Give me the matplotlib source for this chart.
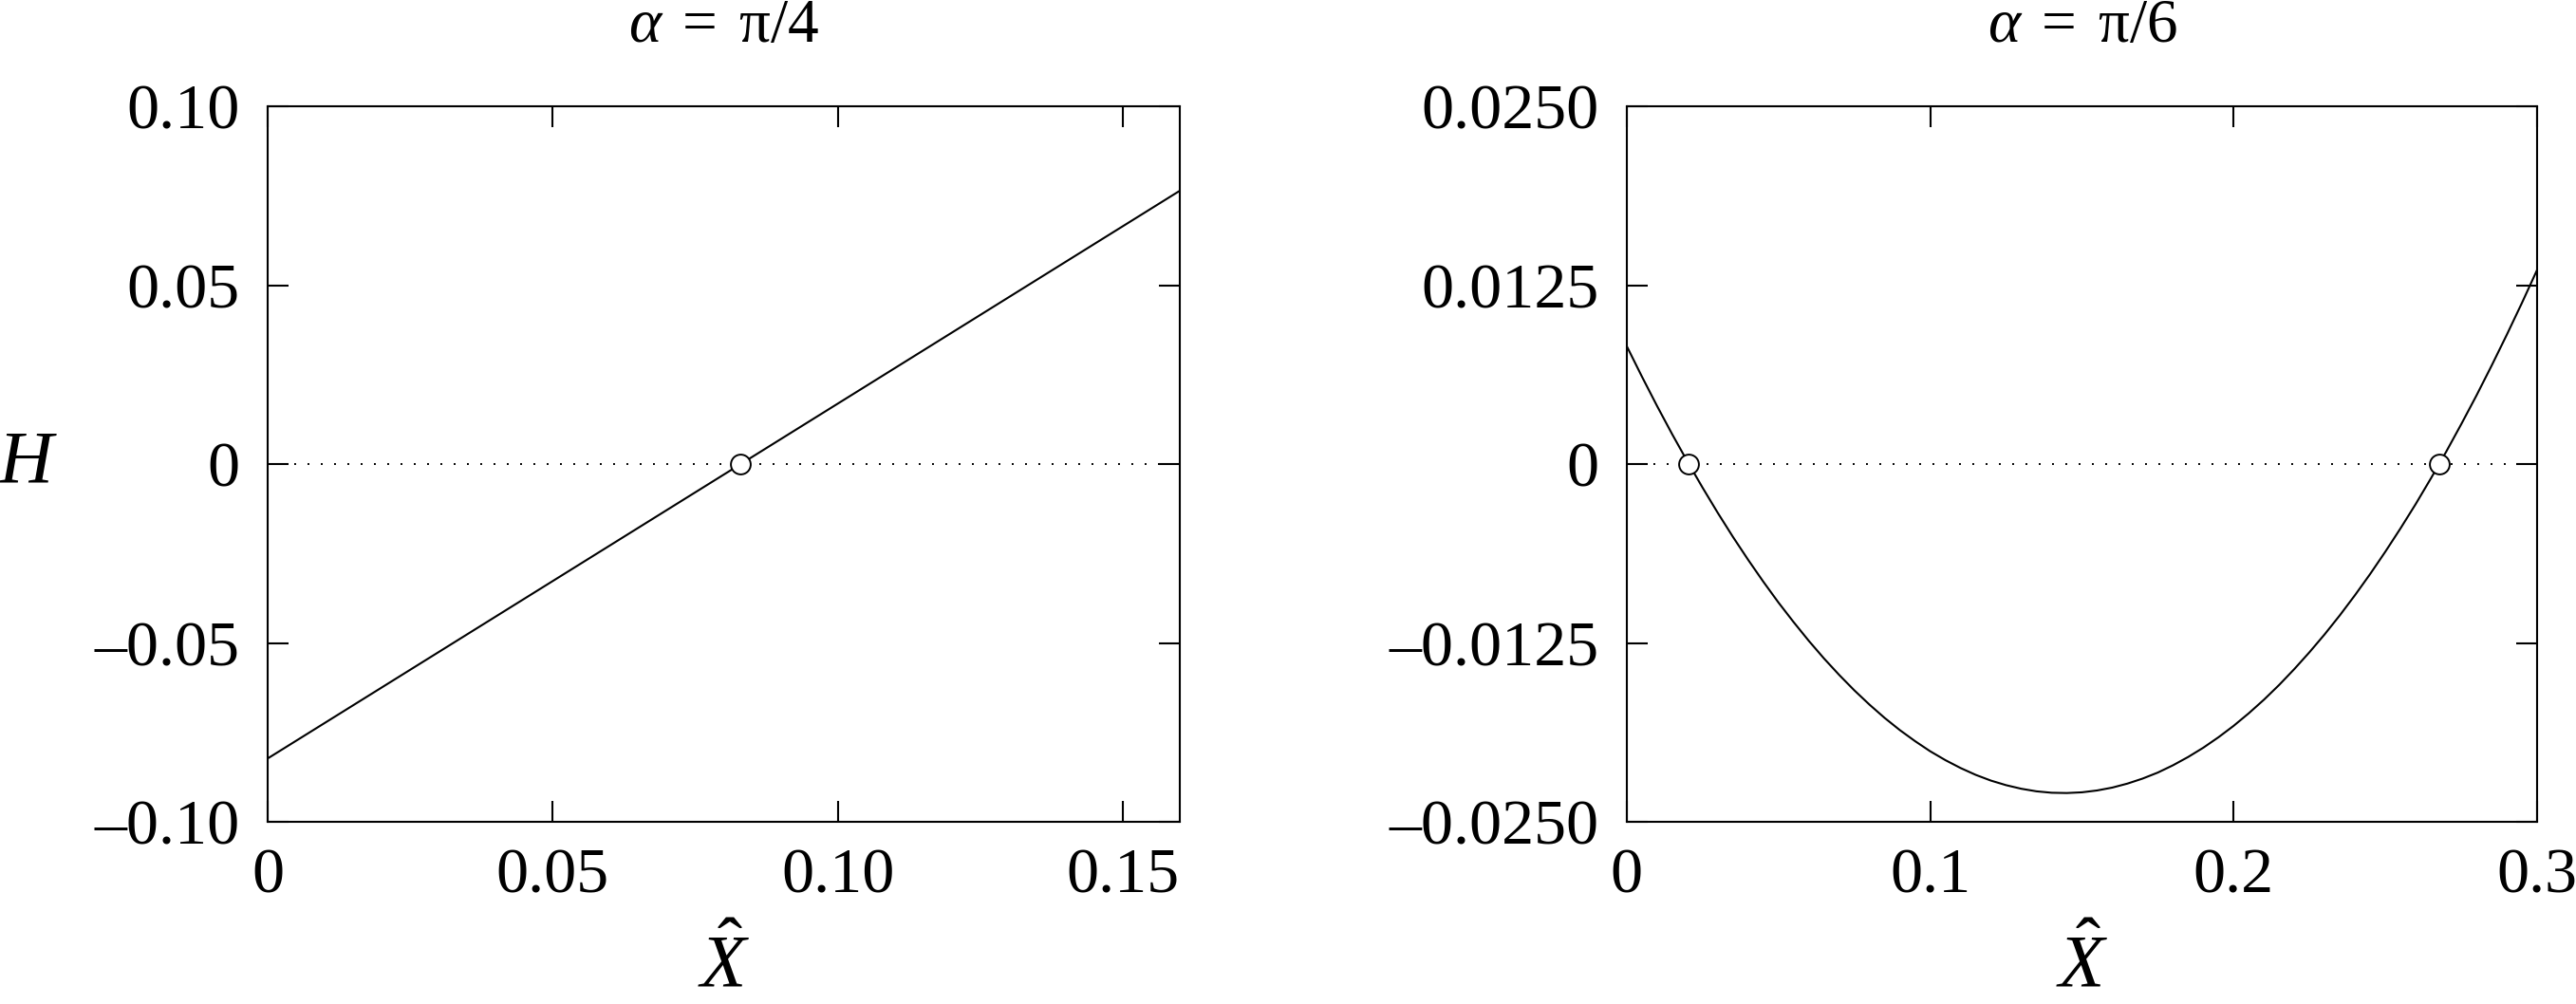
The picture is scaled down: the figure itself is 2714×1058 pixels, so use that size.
import numpy as np
import matplotlib
matplotlib.use('Agg')
import matplotlib.pyplot as plt

plt.rcParams['font.family'] = ['Liberation Serif', 'DejaVu Serif']
plt.rcParams['mathtext.fontset'] = 'custom'
plt.rcParams['mathtext.rm'] = 'Liberation Serif'
plt.rcParams['mathtext.it'] = 'Liberation Serif:italic'
plt.rcParams['axes.linewidth'] = 1.5

# alpha = pi/4 : straight line
x_a = [0.0, 0.16]
H_a = [-0.0823, 0.0765]
roots_a = [0.0829]

# alpha = pi/6 : every 0.005
x_b = [0.000, 0.005, 0.010, 0.015, 0.020, 0.025, 0.030, 0.035, 0.040, 0.045,
       0.050, 0.055, 0.060, 0.065, 0.070, 0.075, 0.080, 0.085, 0.090, 0.095,
       0.100, 0.105, 0.110, 0.115, 0.120, 0.125, 0.130, 0.135, 0.140, 0.145,
       0.150, 0.155, 0.160, 0.165, 0.170, 0.175, 0.180, 0.185, 0.190, 0.195,
       0.200, 0.205, 0.210, 0.215, 0.220, 0.225, 0.230, 0.235, 0.240, 0.245,
       0.250, 0.255, 0.260, 0.265, 0.270, 0.275, 0.280, 0.285, 0.290, 0.295,
       0.300]
H_b = [0.00826, 0.00613, 0.00407, 0.00209, 0.00019, -0.00164, -0.00340,
       -0.00508, -0.00668, -0.00821, -0.00967, -0.01104, -0.01235, -0.01358,
       -0.01473, -0.01581, -0.01681, -0.01774, -0.01859, -0.01936, -0.02007,
       -0.02069, -0.02124, -0.02172, -0.02212, -0.02244, -0.02269, -0.02287,
       -0.02297, -0.02299, -0.02294, -0.02281, -0.02261, -0.02233, -0.02198,
       -0.02156, -0.02105, -0.02047, -0.01982, -0.01909, -0.01829, -0.01741,
       -0.01646, -0.01543, -0.01432, -0.01314, -0.01189, -0.01056, -0.00915,
       -0.00767, -0.00611, -0.00448, -0.00278, -0.00099, 0.00086, 0.00280,
       0.00480, 0.00689, 0.00905, 0.01128, 0.01359]
roots_b = [0.0205, 0.2677]

panels = [
    dict(title='$\\alpha\\;=\\;\\mathrm{π}/4$', x=x_a, H=H_a, roots=roots_a,
         xlim=(0, 0.16), xticks=[0, 0.05, 0.10, 0.15],
         xticklabels=['0', '0.05', '0.10', '0.15'],
         ylim=(-0.10, 0.10), yticks=[-0.10, -0.05, 0, 0.05, 0.10],
         yticklabels=['\u20130.10', '\u20130.05', '0', '0.05', '0.10']),
    dict(title='$\\alpha\\;=\\;\\mathrm{π}/6$', x=x_b, H=H_b, roots=roots_b,
         xlim=(0, 0.3), xticks=[0, 0.1, 0.2, 0.3],
         xticklabels=['0', '0.1', '0.2', '0.3'],
         ylim=(-0.025, 0.025), yticks=[-0.025, -0.0125, 0, 0.0125, 0.025],
         yticklabels=['\u20130.0250', '\u20130.0125', '0', '0.0125', '0.0250']),
]

fig = plt.figure(figsize=(27.14, 10.58), dpi=100)
boxes = [[.1039, .1815, .3541, .7122], [.6315, .1815, .3534, .7122]]
fs = 49

for i, p in enumerate(panels):
    ax = fig.add_axes(boxes[i])
    ax.plot(p['xlim'], [0, 0], color='k', lw=1.4, ls=(0, (1, 6.2)))
    ax.plot(p['x'], p['H'], color='k', lw=1.5, solid_capstyle='butt')
    ax.plot(p['roots'], np.zeros(len(p['roots'])), 'o', mfc='white', mec='k',
            ms=15, mew=1.4, zorder=5)
    ax.set_xlim(p['xlim']), ax.set_ylim(p['ylim'])
    ax.set_xticks(p['xticks'])
    ax.set_xticklabels(p['xticklabels'], fontsize=fs)
    ax.set_yticks(p['yticks'])
    ax.set_yticklabels(p['yticklabels'], fontsize=fs)
    ax.tick_params(direction='in', top=True, right=True, length=15.5, width=1.5)
    ax.tick_params(axis='x', pad=20)
    ax.tick_params(axis='y', pad=21)
    ax.set_title(p['title'], fontsize=47, pad=49)
    ax.set_xlabel(r'$\hat{X}$', fontsize=57, labelpad=18)
    if i == 0:
        ax.set_ylabel(r'$H$', fontsize=57, rotation=0, ha='center', va='center')
        ax.yaxis.set_label_coords(-0.2625, 0.5)

plt.savefig('out.png', dpi=100)
